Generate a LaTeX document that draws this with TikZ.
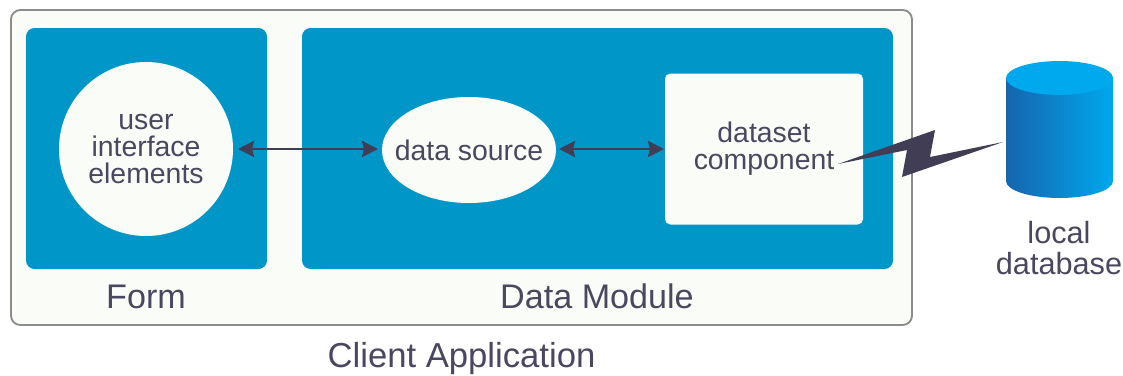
\documentclass[tikz,border=0pt]{standalone}
\usepackage{fontspec}
\setmainfont{Liberation Sans}
\usetikzlibrary{arrows.meta,calc,shapes.geometric}
\definecolor{ink}{HTML}{4A4760}
\definecolor{arrowc}{HTML}{403D55}
\definecolor{panel}{HTML}{0096C8}
\definecolor{paper}{HTML}{FAFCF8}
\definecolor{frame}{HTML}{8C8C8C}
\definecolor{dbdark}{HTML}{1565AE}
\definecolor{dblight}{HTML}{00A8EE}
\tikzset{
  x=0.75pt,y=-0.75pt,
  panelbox/.style={draw=none,fill=panel,rounded corners=6.5pt,inner sep=0pt,outer sep=0pt,anchor=north west},
  whitebox/.style={fill=paper,inner sep=0pt,outer sep=0pt,align=center,text=ink,font=\fontsize{21.3pt}{20.25pt}\selectfont},
  lbl/.style={text=ink,inner sep=0pt,align=center,font=\fontsize{25.6pt}{28pt}\selectfont},
  twoway/.style={draw=arrowc,line width=2.2pt,{Stealth[length=12pt,width=12pt,inset=1.5pt]}-{Stealth[length=12pt,width=12pt,inset=1.5pt]}},
}
\begin{document}
\begin{tikzpicture}
\useasboundingbox (0,0) rectangle (1123,375);
\node[draw=frame,line width=1.4pt,fill=paper,rounded corners=7pt,minimum width=675.75pt,minimum height=236.25pt,inner sep=0pt,outer sep=0pt,anchor=north west] (app) at (11,10) {};
\node[panelbox,minimum width=180.75pt,minimum height=180.75pt] (form) at (26,28) {};
\node[panelbox,minimum width=443.25pt,minimum height=180.75pt] (module) at (302,28) {};
\node[whitebox,circle,minimum size=130.5pt] (ui) at (146,149) {user\\interface\\elements};
\node[whitebox,ellipse,minimum width=130.5pt,minimum height=79.5pt] (src) at (469,150) {\makebox[0pt]{data source}};
\node[whitebox,rounded corners=4pt,minimum width=148.5pt,minimum height=113.25pt] (ds) at (764,149) {dataset\\component};
\node[lbl] (formlbl) at (146,297) {Form};
\node[lbl] (modlbl) at (597,296) {Data Module};
\node[lbl,font=\fontsize{26pt}{28pt}\selectfont] (applbl) at (461.5,358.5) {Client Application};
\node[lbl,font=\fontsize{23pt}{23pt}\selectfont] (dblbl) at (1059,248) {local\\database};
% cylinder
\shade[left color=dbdark,right color=dblight]
  (1006,78) -- (1006,181) arc[start angle=180,end angle=0,x radius=53.5,y radius=17] -- (1113,78) -- cycle;
\fill[dblight] (1059.5,78) ellipse[x radius=53.5,y radius=17];
\node[inner sep=0pt,minimum size=0pt] (db) at (1003,142) {};
% connectors
\draw[twoway,shorten <=3.75pt,shorten >=3pt] (ui.east) -- (ui.east -| src.west);
\draw[twoway,shorten <=2.25pt,shorten >=0.75pt] (src.east |- ui.east) -- (ds.west |- ui.east);
% lightning
\coordinate (b1) at (935,130);
\coordinate (b2) at (930,157);
\coordinate (b3) at (902,177);
\coordinate (b4) at (907,150);
\coordinate (dsend) at (838,164);
\fill[arrowc] (dsend) -- (b1) -- (b2) -- (db.center) -- (b3) -- (b4) -- cycle;
\end{tikzpicture}
\end{document}
